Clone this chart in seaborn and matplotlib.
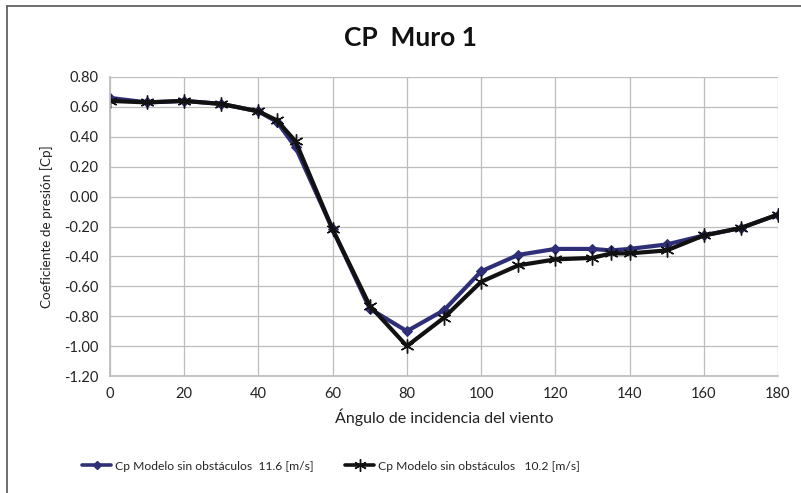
import matplotlib
matplotlib.use("Agg")
import matplotlib.pyplot as plt
import seaborn as sns
import pandas as pd
from matplotlib.lines import Line2D

angles = [0, 10, 20, 30, 40, 45, 50, 60, 70, 80, 90, 100, 110, 120, 130, 135, 140, 150, 160, 170, 180]
cp_116 = [0.66, 0.63, 0.64, 0.62, 0.57, 0.50, 0.33, -0.22, -0.75, -0.90, -0.76, -0.50, -0.39, -0.35,
          -0.35, -0.36, -0.35, -0.32, -0.26, -0.21, -0.12]
cp_102 = [0.64, 0.63, 0.64, 0.62, 0.57, 0.51, 0.37, -0.22, -0.73, -1.00, -0.81, -0.57, -0.46, -0.42,
          -0.41, -0.38, -0.38, -0.36, -0.26, -0.21, -0.12]
label_116 = "Cp Modelo sin obstáculos  11.6 [m/s]"
label_102 = "Cp Modelo sin obstáculos   10.2 [m/s]"
y_ticks = [0.8, 0.6, 0.4, 0.2, 0.0, -0.2, -0.4, -0.6, -0.8, -1.0, -1.2]
x_ticks = list(range(0, 181, 20))

sns.set_theme(style="whitegrid")
plt.rcParams['font.family'] = ['Lato', 'DejaVu Sans']

df116 = pd.DataFrame({"ang": angles, "cp": cp_116})
df102 = pd.DataFrame({"ang": angles, "cp": cp_102})

c116 = "#2f2f78"
c102 = "#111111"

fig = plt.figure(figsize=(8.01, 4.93), dpi=100)
ax = fig.add_axes([110 / 801, 1 - 376 / 493, (778 - 110) / 801, (376 - 77) / 493])

sns.lineplot(data=df116, x="ang", y="cp", color=c116, linewidth=3.0, marker="D", markersize=5,
             markeredgecolor=c116, markerfacecolor=c116, ax=ax, label=label_116, legend=False)
sns.lineplot(data=df102, x="ang", y="cp", color=c102, linewidth=3.0, marker=(6, 2, 0), markersize=10,
             markeredgecolor=c102, markeredgewidth=1.0, ax=ax, label=label_102, legend=False)

ax.set_xlim(0, 180)
ax.set_ylim(-1.2, 0.8)
ax.set_xticks(x_ticks)
ax.set_yticks(y_ticks)
ax.set_yticklabels([f"{v:.2f}" for v in y_ticks])
ax.grid(True, color="#bdbdbd", linewidth=0.9)
for s in ax.spines.values():
    s.set_visible(False)
ax.spines['bottom'].set_visible(True)
ax.spines['bottom'].set_color("#bdbdbd")
ax.spines['left'].set_visible(True)
ax.spines['left'].set_color("#bdbdbd")
ax.tick_params(axis="both", labelsize=10.5, colors="#222222", length=0, pad=8)
ax.set_xlabel("Ángulo de incidencia del viento", fontsize=11.5, color="#222222", labelpad=5)
ax.set_ylabel("Coeficiente de presión [Cp]", fontsize=9.7, color="#222222", labelpad=8)

fig.text(410 / 801, 1 - 38 / 493, "CP  Muro 1", ha="center", va="center", fontsize=19, fontweight="bold", color="#111111")

handles = [Line2D([], [], color=c116, marker="D", markersize=4, linewidth=2.6),
           Line2D([], [], color=c102, marker=(6, 2, 0), markersize=9, linewidth=2.6)]
fig.legend(handles, [label_116, label_102], loc="center left", bbox_to_anchor=(82 / 801, 1 - 466 / 493),
           ncol=2, frameon=False, fontsize=8.7, handlelength=2.4, columnspacing=2.6, handletextpad=0.35,
           borderaxespad=0, borderpad=0)

fig.add_artist(Line2D([7 / 801, 7 / 801], [0, 1 - 6 / 493], color="#555555", linewidth=1.2))
fig.add_artist(Line2D([7 / 801, 1], [1 - 6 / 493, 1 - 6 / 493], color="#555555", linewidth=1.2))

fig.savefig("out.png", dpi=100, facecolor="white")
